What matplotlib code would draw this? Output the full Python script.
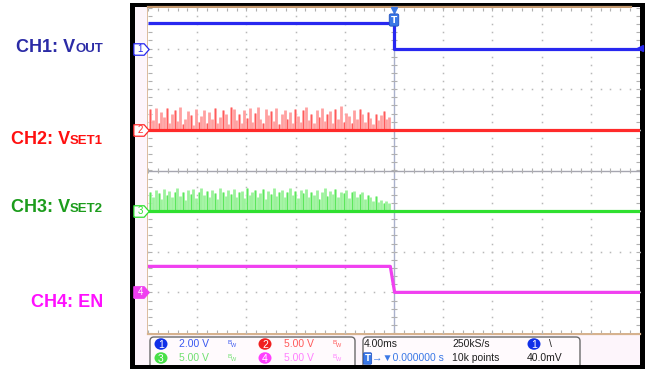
import numpy as np
import matplotlib
matplotlib.use('Agg')
import matplotlib.pyplot as plt
from matplotlib import patches, transforms
from matplotlib.collections import LineCollection
from matplotlib.path import Path

# ---- scope data -------------------------------------------------------
channels = ['CH1', 'CH2', 'CH3', 'CH4']
offsets = [3.0, 1.0, -1.0, -3.0]          # ground marker, divisions
volts_per_div = [2.0, 5.0, 5.0, 5.0]
level_before = [1.25, 0.0, 0.0, 3.2]      # volts, before EN goes low
level_after = [0.0, 0.0, 0.0, 0.0]        # volts, after
t_start, t_end = -20.0, 20.0              # ms (4 ms/div)
t_step = 0.0
en_fall = [-0.3, 0.05]                    # EN falling edge start / end, ms
trig_level = 0.04                         # V on CH1

# switching bursts on VSET1 / VSET2 before the step (peak volts)
vset1_spikes = [2.6, 1.2, 2.7, 0.8, 2.2, 1.6, 2.7, 0.9, 1.9, 2.5, 1.1, 2.8, 0.7, 1.4,
                2.3, 1.8, 0.6, 2.6, 1.0, 1.7, 2.4, 0.9, 2.2, 1.3, 2.7, 0.8, 1.6, 2.5,
                1.9, 0.7, 2.8, 2.6, 1.2, 2.0, 0.9, 2.4, 1.5, 2.7, 1.0, 2.1, 2.8, 1.4,
                0.8, 2.6, 1.8, 2.3, 1.1, 2.7, 0.7, 1.9, 2.5, 1.3, 2.2, 0.9, 2.6, 1.7,
                1.0, 2.4, 2.8, 1.2, 2.0, 0.8, 2.5, 1.6, 2.7, 1.1, 1.9, 2.3, 0.9, 2.6,
                1.4, 2.9, 1.0, 2.1, 1.7, 0.8, 2.4, 1.3, 2.6, 1.9, 1.0, 2.2, 1.5, 0.7,
                2.0, 1.2, 1.8, 2.3, 1.4, 1.6]
vset2_spikes = [2.4, 1.8, 2.6, 2.2, 1.5, 2.7, 2.0, 2.5, 1.7, 2.3, 2.8, 1.9, 2.4, 1.4,
                2.6, 2.1, 2.7, 1.6, 2.3, 2.9, 2.0, 2.5, 1.8, 2.6, 2.2, 1.5, 2.8, 2.4,
                1.9, 2.6, 2.1, 2.7, 1.7, 2.3, 2.5, 1.6, 2.8, 2.0, 2.4, 2.6, 1.8, 2.2,
                2.7, 1.5, 2.5, 2.1, 2.9, 1.9, 2.4, 2.6, 1.7, 2.3, 2.8, 2.0, 2.5, 1.6,
                2.6, 2.2, 2.7, 1.8, 2.4, 2.0, 2.6, 1.5, 2.3, 2.8, 1.9, 2.5, 2.1, 2.7,
                1.7, 2.4, 2.2, 2.6, 1.6, 2.3, 2.5, 1.8, 2.1, 2.4, 1.5, 2.0, 1.7, 1.3,
                1.9, 1.1, 1.4, 1.0, 1.2, 1.0]

# ---- labels -----------------------------------------------------------
label_main = ['CH1: V', 'CH2: V', 'CH3: V', 'CH4: EN']
label_sub = ['OUT', 'SET1', 'SET2', '']
label_base = [52, 144, 212, 307]          # pixel baselines of the side labels

status_scale = ['2.00 V', '5.00 V', '5.00 V', '5.00 V']
status_time = ['4.00ms', '250kS/s', '40.0mV', '10k points', '0.000000 s']

colors = ['#2828f0', '#ff2a2a', '#30e030', '#f040f0']
light_colors = ['#8a8aff', '#ffa0a0', '#9cf29c', '#ff9cff']
label_colors = ['#2b2ba6', '#ff1010', '#1c9c1c', '#ff10ff']
status_colors = ['#3a58f0', '#ff5a5a', '#70e070', '#ff80ff']
badge_colors = ['#1030e8', '#f02020', '#48e048', '#ff40ff']

SANS = ['Liberation Sans', 'DejaVu Sans']

W, H = 645, 369
fig = plt.figure(figsize=(W / 100, H / 100), dpi=100)
fig.patch.set_facecolor('white')

# overlay in pixel coordinates for the instrument frame
ax0 = fig.add_axes([0, 0, 1, 1])
ax0.set_xlim(0, W)
ax0.set_ylim(H, 0)
ax0.axis('off')
ax0.add_patch(patches.Rectangle((130, 3), 515, 366, fc='black', ec='none'))
ax0.add_patch(patches.Rectangle((135, 7), 505, 358, fc='#fdf5fb', ec='none'))

gl, gr, gt, gb = 148, 640, 8, 333
ax = fig.add_axes([gl / W, (H - gb) / H, (gr - gl) / W, (gb - gt) / H])
ax.set_facecolor('white')
ax.set_xlim(t_start, t_end)
ax.set_ylim(-4, 4)
ax.set_xticks([])
ax.set_yticks([])
for s in ax.spines.values():
    s.set_visible(False)

# grid dots
dot = '#b8b8b8'
for xv in [-16, -12, -8, -4, 4, 8, 12, 16]:
    yy = np.arange(-4, 4.001, 0.2)
    ax.plot(np.full_like(yy, xv), yy, ls='', marker='s', ms=1.1, mec='none', mfc=dot)
for yh in [-3, -2, -1, 1, 2, 3]:
    xx = np.arange(-20, 20.01, 0.8)
    ax.plot(xx, np.full_like(xx, yh), ls='', marker='s', ms=1.1, mec='none', mfc=dot)

# center crosshair with minor ticks
ax.axvline(0, color='#a9b1cc', lw=1, zorder=1)
ax.axhline(0, color='#a6a6b0', lw=1, zorder=1)
segs = []
for yy in np.arange(-4, 4.001, 0.2):
    segs.append([(-0.25, yy), (0.25, yy)])
    segs.append([(t_start, yy), (t_start + 0.3, yy)])
    segs.append([(t_end - 0.3, yy), (t_end, yy)])
for xx in np.arange(-20, 20.01, 0.8):
    segs.append([(xx, -0.07), (xx, 0.07)])
    segs.append([(xx, 4), (xx, 3.93)])
    segs.append([(xx, -4), (xx, -3.93)])
ax.add_collection(LineCollection(segs, colors='#b0b0b0', linewidths=0.8, zorder=1))

# switching bursts
tt1 = np.linspace(-19.8, -0.4, len(vset1_spikes))
tt2 = np.linspace(-19.8, -0.4, len(vset2_spikes))
for tt, sp, ch in [(tt1, vset1_spikes, 1), (tt2, vset2_spikes, 2)]:
    base = offsets[ch]
    top = base + np.array(sp) / volts_per_div[ch]
    ax.vlines(tt, base, top, colors=light_colors[ch], lw=2.0, zorder=2)
    ax.vlines(tt[::3], base, top[::3], colors=colors[ch], lw=0.6, alpha=0.7, zorder=2)

# traces
for i in range(4):
    b = offsets[i] + level_before[i] / volts_per_div[i]
    a = offsets[i] + level_after[i] / volts_per_div[i]
    if i == 3:
        xs = [t_start, en_fall[0], en_fall[1], t_end]
    else:
        xs = [t_start, t_step, t_step, t_end]
    ax.plot(xs, [b, b, a, a], color=colors[i], lw=2.3, zorder=3, solid_capstyle='butt')

# trigger level arrow on the right, trigger position on top
ax.plot(t_end, offsets[0] + trig_level / volts_per_div[0], marker='<', ms=5,
        color=colors[0], clip_on=False, zorder=4)
blend = transforms.blended_transform_factory(ax.transData, ax.transAxes)
ax.plot(t_step, 0.993, marker='v', ms=4.5, color='#3a78e6', transform=blend,
        clip_on=False, zorder=5)
ax.text(t_step, 0.963, 'T', transform=blend, ha='center', va='center', color='white',
        fontsize=6.5, fontweight='bold', zorder=6,
        bbox=dict(boxstyle='round,pad=0.18', fc='#3a78e6', ec='#1f4fc0', lw=0.6))

# channel ground markers on the left strip
yblend = transforms.blended_transform_factory(ax.transAxes, ax.transData)
mk = Path([(-1, -0.75), (0.35, -0.75), (1, 0), (0.35, 0.75), (-1, 0.75), (-1, -0.75)])
for i in range(4):
    filled = (i == 3)
    ax.plot(-0.0135, offsets[i], marker=mk, ms=11, transform=yblend, clip_on=False,
            mfc=colors[i] if filled else 'white', mec=colors[i], mew=0.9, zorder=5)
    ax.text(-0.0155, offsets[i], channels[i][-1], transform=yblend, ha='center',
            va='center', fontsize=7, color='white' if filled else colors[i],
            family=SANS, zorder=6)

# tan borders of the graticule
tan = '#d6b28e'
ax0.plot([gl, gl], [gt, gb], color=tan, lw=1.2)
ax0.plot([gl, 631], [7, 7], color='#c49a70', lw=1.6)
ax0.plot([gl, gr], [gb + 0.5, gb + 0.5], color=tan, lw=1.6)

# side labels
fig.canvas.draw()
rend = fig.canvas.get_renderer()
inv = ax0.transData.inverted()
for i in range(4):
    xr = 103
    if label_sub[i]:
        s = ax0.text(xr, label_base[i], label_sub[i], fontsize=9.5, fontweight='bold',
                     family=SANS, color=label_colors[i], ha='right', va='baseline')
        bb = s.get_window_extent(rend)
        xr = inv.transform((bb.x0, bb.y0))[0]
    ax0.text(xr, label_base[i], label_main[i], fontsize=13, fontweight='bold',
             family=SANS, color=label_colors[i], ha='right', va='baseline')

# status bar
for x0, x1 in [(147, 358), (360, 583)]:
    ax0.add_patch(patches.FancyBboxPatch((x0 + 3, 337), x1 - x0 - 6, 34,
                                         boxstyle='round,pad=0,rounding_size=4',
                                         fc='#fffafd', ec='#6a6a6a', lw=1.0))
ax0.add_patch(patches.Rectangle((130, 365), 515, 4, fc='black', ec='none'))
rows = [344, 358]
fs = 7.5
slots = [(0, 161, 179, 232), (1, 265, 284, 337), (2, 161, 179, 232), (3, 265, 284, 337)]
for k, (ch, bx, tx, ix) in enumerate(slots):
    yy = rows[k // 2]
    ax0.add_patch(patches.Ellipse((bx, yy), 13, 11.5, fc=badge_colors[ch], ec='none'))
    ax0.text(bx, yy + 0.5, str(ch + 1), ha='center', va='center', color='white',
             fontsize=7.5, family=SANS)
    ax0.text(tx, yy, status_scale[ch], ha='left', va='center', color=status_colors[ch],
             fontsize=fs, family=SANS)
    ax0.text(ix - 2, yy - 1.5, 'B', ha='center', va='center', color=status_colors[ch],
             fontsize=4.5, family=SANS)
    ax0.text(ix + 1.5, yy + 1.5, 'W', ha='center', va='center', color=status_colors[ch],
             fontsize=4, family=SANS)

ax0.text(364, rows[0], status_time[0], ha='left', va='center', color='#202020',
         fontsize=fs, family=SANS)
ax0.text(452, rows[0], status_time[1], ha='left', va='center', color='#202020',
         fontsize=fs, family=SANS)
ax0.add_patch(patches.Ellipse((534, rows[0]), 13, 11.5, fc=badge_colors[0], ec='none'))
ax0.text(534, rows[0] + 0.5, '1', ha='center', va='center', color='white', fontsize=7.5,
         family=SANS)
ax0.text(549, rows[0], '\\', ha='left', va='center', color='#202020', fontsize=fs,
         family=SANS)
ax0.text(527, rows[1], status_time[2], ha='left', va='center', color='#202020',
         fontsize=fs, family=SANS)
ax0.text(452, rows[1], status_time[3], ha='left', va='center', color='#202020',
         fontsize=fs, family=SANS)
ax0.text(367.5, rows[1] + 0.5, 'T', ha='center', va='center', color='white', fontsize=6,
         fontweight='bold', bbox=dict(boxstyle='round,pad=0.15', fc='#3a78e6',
                                      ec='#1f4fc0', lw=0.5))
ax0.text(372, rows[1], '\u2192\u25bc' + status_time[4], ha='left', va='center',
         color='#3a78e6', fontsize=fs, family=SANS)

fig.savefig('out.png', dpi=100)
